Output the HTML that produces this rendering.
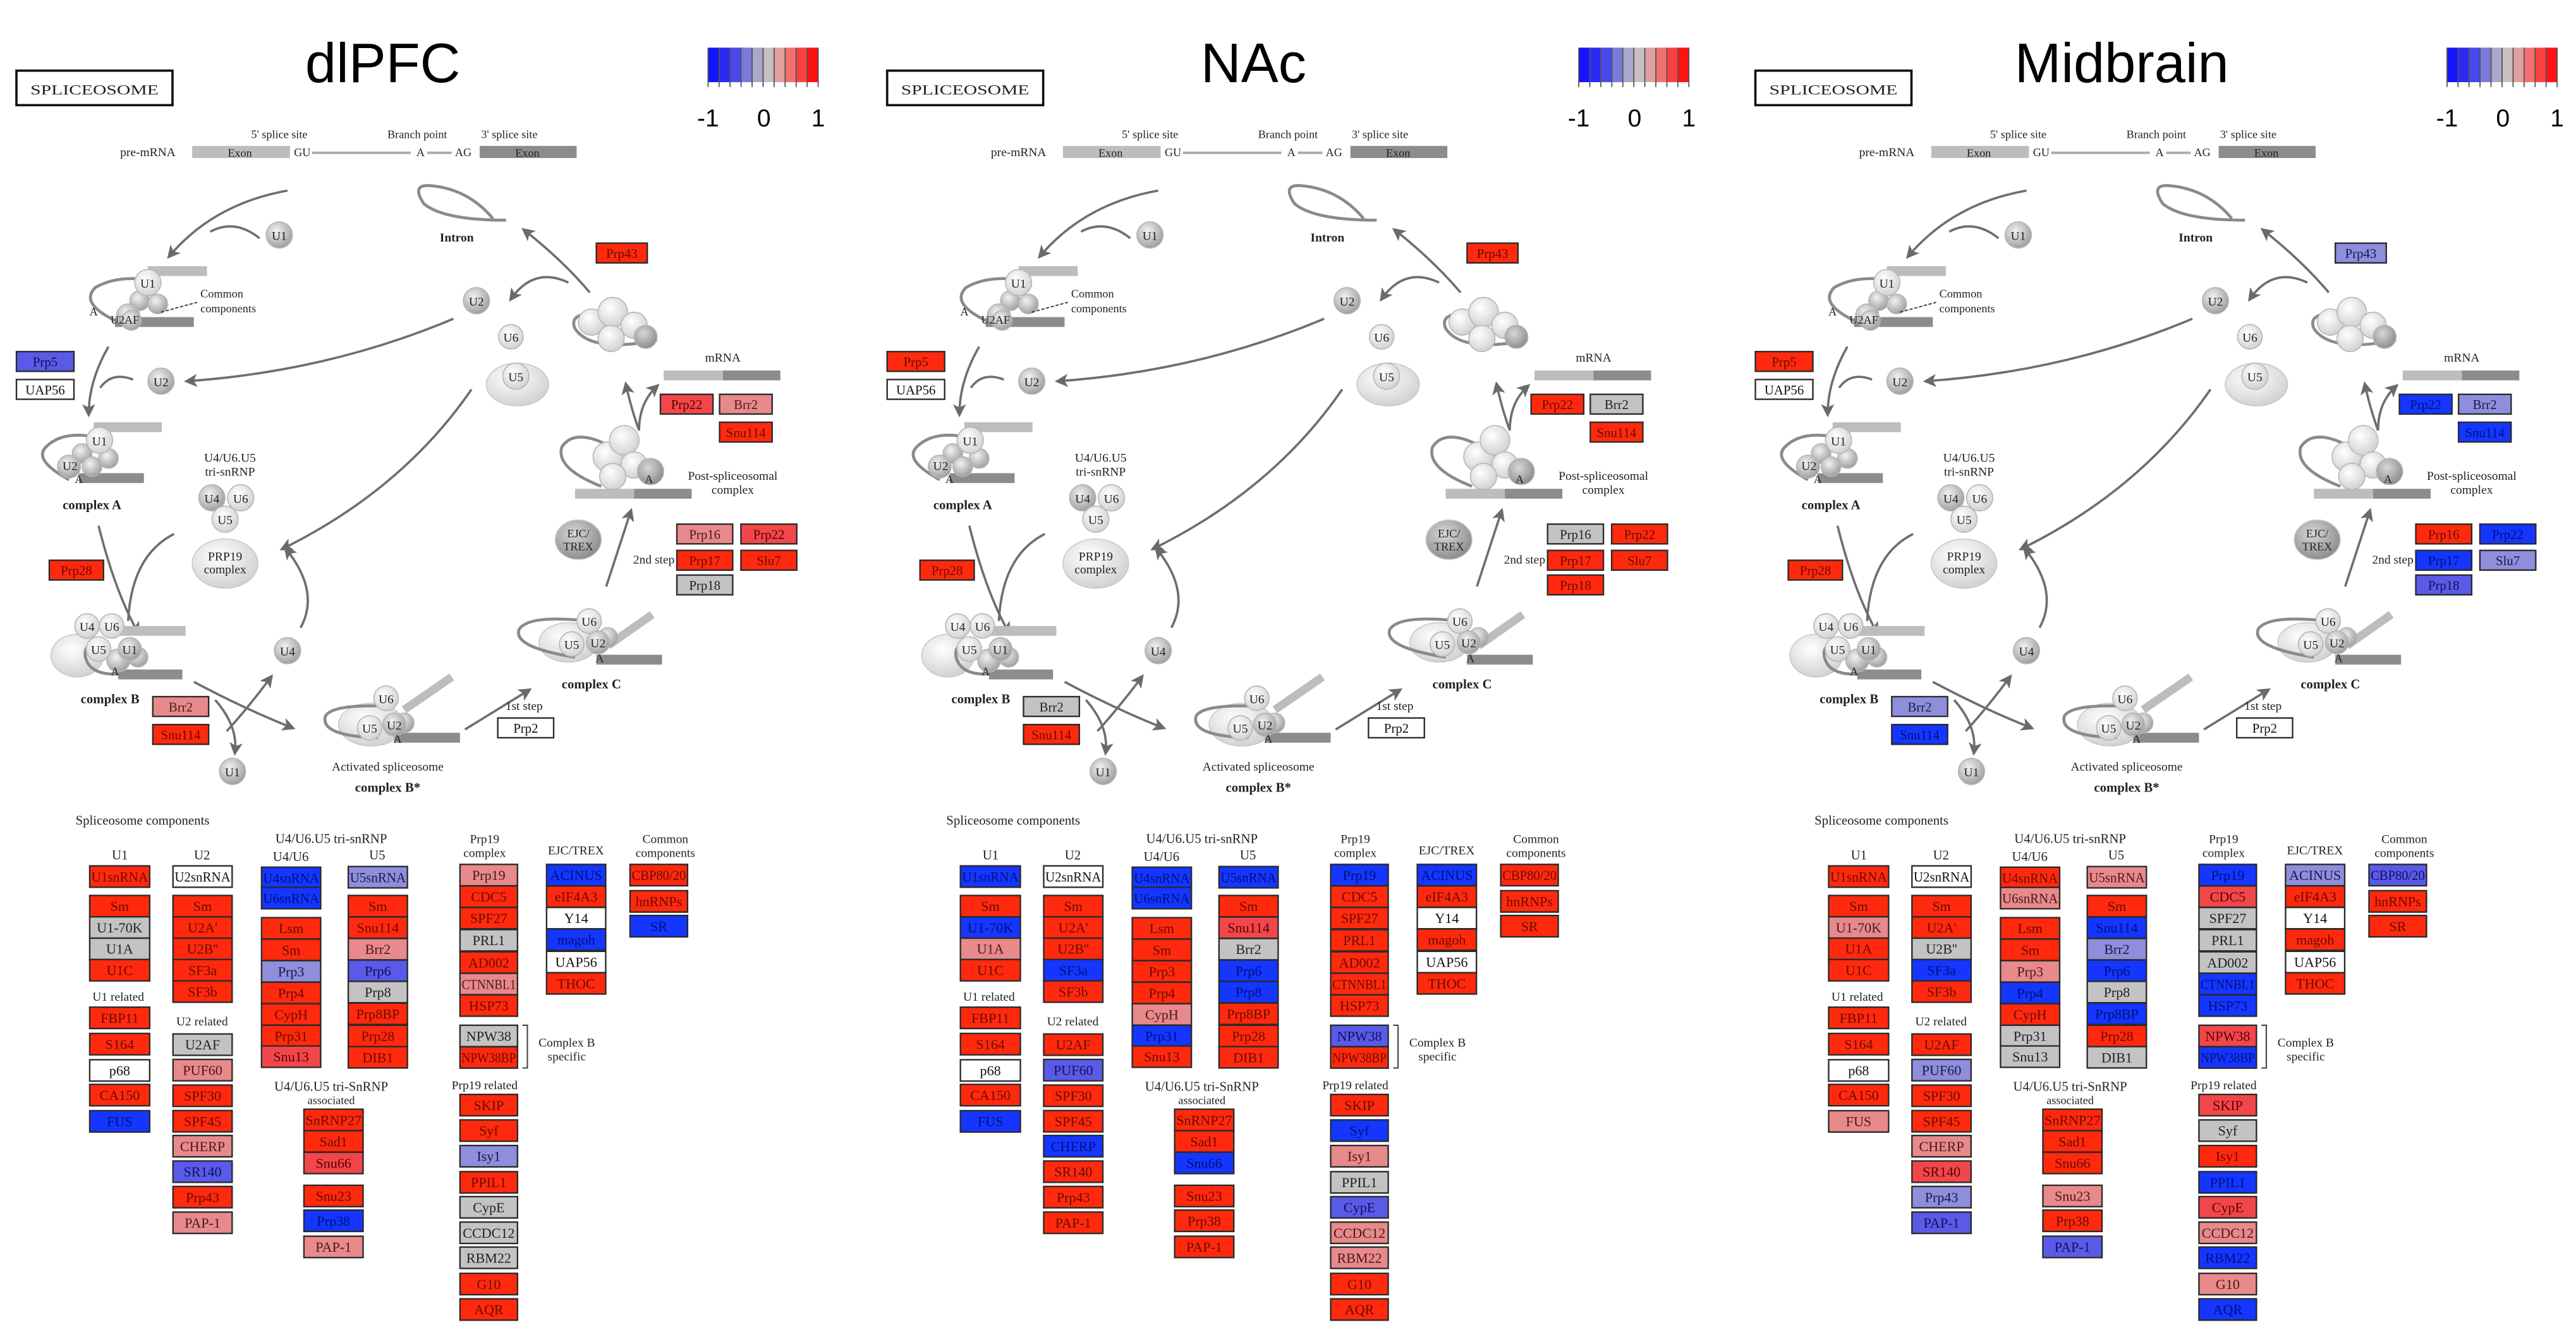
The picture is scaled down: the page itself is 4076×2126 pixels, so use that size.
<!DOCTYPE html>
<html><head><meta charset="utf-8">
<style>
html,body{margin:0;padding:0;background:#fff;}
svg{display:block;}
</style></head>
<body>
<svg id="s" xmlns="http://www.w3.org/2000/svg" width="4076" height="2126" viewBox="0 0 1568 818" preserveAspectRatio="none">
<defs>
<radialGradient id="gc" cx="40%" cy="35%" r="70%"><stop offset="0" stop-color="#f2f2f2"/><stop offset="1" stop-color="#9a9a9a"/></radialGradient>
<radialGradient id="gw" cx="40%" cy="35%" r="70%"><stop offset="0" stop-color="#ffffff"/><stop offset="1" stop-color="#cfcfcf"/></radialGradient>
<radialGradient id="gd" cx="40%" cy="35%" r="70%"><stop offset="0" stop-color="#d8d8d8"/><stop offset="1" stop-color="#888"/></radialGradient>
<marker id="ah" markerWidth="8" markerHeight="8" refX="6" refY="4" orient="auto" markerUnits="userSpaceOnUse"><path d="M0,0 L8,4 L0,8 L2,4 z" fill="#6a6a6a"/></marker>
</defs>
<g id="root"></g>
</svg>
<script>
var C={R:['#ff2a0e','#6a0a00'],L:['#f2474a','#5a0000'],P:['#e8898c','#4a1a1a'],G:['#c3c3c3','#222'],W:['#ffffff','#111'],B:['#1436ff','#00107a'],M:['#5a5ae8','#10105a'],V:['#8e8edc','#1a1a4a']};
var out=[];
function box(x,y,w,h,c,t,fs){var col=C[c];out.push('<rect x="'+x+'" y="'+y+'" width="'+w+'" height="'+h+'" fill="'+col[0]+'" stroke="#2a2a2a" stroke-width="0.9"/>');
 var tl=(t.length>6)?' textLength="'+(w-2)+'" lengthAdjust="spacingAndGlyphs"':'';
 out.push('<text x="'+(x+w/2)+'" y="'+(y+h/2+3)+'" font-family="Liberation Serif, serif" font-size="'+(fs||8.5)+'" fill="'+col[1]+'" text-anchor="middle"'+tl+'>'+t+'</text>');}
function txt(x,y,t,fs,anc,extra){out.push('<text x="'+x+'" y="'+y+'" font-family="Liberation Serif, serif" font-size="'+fs+'" fill="#222" text-anchor="'+(anc||'middle')+'" '+(extra||'')+'>'+t+'</text>');}
function circ(x,y,r,t,g){out.push('<circle cx="'+x+'" cy="'+y+'" r="'+r+'" fill="url(#'+(g||'gc')+')" stroke="#b5b5b5" stroke-width="0.6"/>');if(t)txt(x,y+3,t,7.5);}
function ell(x,y,rx,ry,g){out.push('<ellipse cx="'+x+'" cy="'+y+'" rx="'+rx+'" ry="'+ry+'" fill="url(#'+(g||'gw')+')" stroke="#c8c8c8" stroke-width="0.6"/>');}
function bar(x1,x2,y,c,h){out.push('<rect x="'+x1+'" y="'+(y-(h||3.5))+'" width="'+(x2-x1)+'" height="'+((h||3.5)*2)+'" fill="'+c+'"/>');}
function path(d,arrow,w){out.push('<path d="'+d+'" fill="none" stroke="#6e6e6e" stroke-width="'+(w||1.4)+'"'+(arrow?' marker-end="url(#ah)"':'')+'/>');}
function loop(d){out.push('<path d="'+d+'" fill="none" stroke="#8a8a8a" stroke-width="1.8"/>');}

var LB='#bdbdbd', DB='#8c8c8c';
function panel(o,title,up,comp){
 out.push('<g transform="translate('+o+',0)">');
 out.push('<rect x="10" y="43" width="95" height="21" fill="#fff" stroke="#111" stroke-width="1.4"/>');
 txt(57.5,57.5,'SPLICEOSOME',8.5,'middle','textLength="78" lengthAdjust="spacingAndGlyphs"');
 out.push('<text x="233" y="50" font-family="Liberation Sans, sans-serif" font-size="34" fill="#000" text-anchor="middle">'+title+'</text>');
 var bc=['#1414ff','#2a2af5','#4848ec','#7a7ad8','#a8a8cc','#c8c0c0','#e0a0a0','#f27070','#fa4040','#ff1212'];
 for(var i=0;i<10;i++){out.push('<rect x="'+(431+i*6.7)+'" y="29" width="6.7" height="21" fill="'+bc[i]+'"/>');out.push('<line x1="'+(431+i*6.7)+'" y1="29" x2="'+(431+i*6.7)+'" y2="53" stroke="#555" stroke-width="0.7"/>');}
 out.push('<line x1="498" y1="29" x2="498" y2="53" stroke="#555" stroke-width="0.7"/>');
 out.push('<text x="431" y="77" font-family="Liberation Sans, sans-serif" font-size="15" fill="#000" text-anchor="middle">-1</text>');
 out.push('<text x="465" y="77" font-family="Liberation Sans, sans-serif" font-size="15" fill="#000" text-anchor="middle">0</text>');
 out.push('<text x="498" y="77" font-family="Liberation Sans, sans-serif" font-size="15" fill="#000" text-anchor="middle">1</text>');
 // pre-mRNA
 txt(90,95,'pre-mRNA',7.5);
 bar(117,176.5,92.5,LB,3.7);txt(146,95.5,'Exon',7);
 txt(184,95,'GU',7);out.push('<line x1="190" y1="93" x2="250" y2="93" stroke="#aaa" stroke-width="1.5"/>');
 txt(256,95,'A',7);out.push('<line x1="260" y1="93" x2="275" y2="93" stroke="#aaa" stroke-width="1.5"/>');
 txt(282,95,'AG',7);bar(292,351,92.5,DB,3.7);txt(321,95.5,'Exon',7,'middle','fill="#eee"');
 txt(170,84,"5' splice site",7);txt(254,84,'Branch point',7);txt(310,84,"3' splice site",7);
 // intron
 loop('M308 134 Q270 134 258 124 Q250 112 262 113 Q285 115 300 133');
 txt(278,147,'Intron',7.5,'middle','font-weight="bold"');
 // arrows
 path('M175 116 Q130 124 103 156',1);
 path('M158 145 Q143 133 128 141');
 path('M66 211 Q54 232 54 252',1);
 path('M81 231 Q68 226 61 236');
 path('M276 194 Q200 226 114 232',1);
 path('M287 237 Q245 298 172 334',1);
 path('M60 320 Q70 360 84 385',1);
 path('M106 325 Q80 338 78 378');
 path('M118 415 Q150 432 178 443',1);
 path('M138 445 Q150 432 165 412',1);
 path('M131 426 Q145 442 143 458',1);
 path('M183 382 Q195 360 174 334',1);
 path('M283 444 L322 420',1);
 path('M369 357 L384 311',1);
 path('M389 262 Q384 248 381 234',1);
 path('M389 262 Q389 245 400 235',1);
 path('M359 178 Q342 158 319 140',1);
 path('M346 172 Q325 162 311 182',1);
 // snRNPs
 circ(170,143,8,'U1');circ(290,183,8,'U2');circ(311,205,7.5,'U6','gw');
 ell(315,234,19,13,'gw');circ(314,229,8,'U5','gw');
 circ(98,232,8,'U2');circ(175,396,8,'U4');circ(141.5,469.5,8,'U1');
 // tri-snRNP
 txt(140,281,'U4/U6.U5',7.5);txt(140,289.5,'tri-snRNP',7.5);
 circ(129,303,8,'U4');circ(146.5,303,8,'U6','gw');circ(137,316,8,'U5','gw');
 ell(137,343,20,15);txt(137,341,'PRP19',7.5);txt(137,349,'complex',7.5);
 ell(352,328.5,14,12,'gd');txt(352,327,'EJC/',7);txt(352,335,'TREX',7);
 // complex E
 bar(90,126,165,LB,3);bar(70,118,196,DB,3);
 loop('M72 196 Q48 185 58 175 Q70 168 88 170');
 circ(85,183,6);circ(96,185,6);circ(78,192,7);circ(90,172,8,'U1','gw');circ(80,195,6);
 txt(76,197,'U2AF',7);txt(57,192,'A',7);
 out.push('<path d="M98 190 L120 184" stroke="#333" stroke-dasharray="2,1" stroke-width="0.7"/>');
 txt(122,181,'Common',7,'start');txt(122,190,'components',7,'start');
 // complex A
 bar(57,98.5,260,LB,3);bar(48,87.6,291,DB,3);
 loop('M42 292 Q20 280 28 272 Q38 262 58 266');
 circ(50,276,6);circ(66,279,6);circ(56,284,6);circ(42,284,7);circ(60.6,268,8,'U1','gw');txt(42.6,286,'U2',7.5);txt(48,294,'A',7);
 txt(56,310,'complex A',8,'middle','font-weight="bold"');
 // complex B
 ell(47,399,16,13,'gw');bar(68,113,384,LB,3);bar(72,111,410.5,DB,3);
 loop('M75 410 Q55 412 52 400 Q50 390 65 392');
 circ(72,402,7);circ(84,400,6);circ(53,381,7.5,'U4','gw');circ(68,381,7.5,'U6','gw');circ(60,395,7.5,'U5','gw');circ(79,395,7,'U1');txt(70,411,'A',7);
 txt(67,428,'complex B',8,'middle','font-weight="bold"');
 // complex B*
 ell(226,441,20,13,'gw');out.push('<line x1="246" y1="432" x2="275" y2="412" stroke="#bdbdbd" stroke-width="5"/>');
 bar(240,280,449,DB,3);loop('M230 449 Q195 448 198 436 Q202 428 240 430');
 circ(246,440,6);circ(235,425,7.5,'U6','gw');circ(225,443,7.5,'U5','gw');circ(240,441,7,'U2');txt(242,452,'A',7);
 txt(236,469,'Activated spliceosome',7.5);txt(236,482,'complex B*',8,'middle','font-weight="bold"');
 // complex C
 ell(346,391,18,12,'gw');out.push('<line x1="370" y1="393" x2="397" y2="374" stroke="#bdbdbd" stroke-width="5"/>');
 bar(363,403,401.5,DB,3);loop('M350 400 Q312 394 316 383 Q322 374 358 378');
 circ(370,388,6);circ(358.6,378,7.5,'U6','gw');circ(348,392,7.5,'U5','gw');circ(364,391,7,'U2');txt(365,403,'A',7);
 txt(360,419,'complex C',8,'middle','font-weight="bold"');
 // post-spliceosomal
 bar(350,386,300.5,LB,3);bar(386,421,300.5,DB,3);
 loop('M366 296 Q338 285 342 272 Q350 260 372 272');
 circ(370,278,9,'','gw');circ(380,268,9,'','gw');circ(386,283,8,'','gw');circ(373,290,8,'','gw');circ(396,287,8,'','gd');txt(395,294,'A',7);
 txt(446,292,'Post-spliceosomal',7.5);txt(446,300.5,'complex',7.5);
 // top right cluster
 loop('M400 207 Q360 215 350 200 Q345 188 372 192');
 circ(360,196,8,'','gw');circ(373,190,9,'','gw');circ(386,198,8,'','gw');circ(372,206,8,'','gw');circ(393,205,7,'','gd');
 // mRNA
 txt(440,220,'mRNA',7.5);bar(404,440,228.5,LB,3);bar(440,475,228.5,DB,3);
 txt(398,343,'2nd step',7.5);txt(319,432,'1st step',7.5);
 // upper boxes
 var U=[['Prp43',363,148,31],['Prp5',10,214,35],['UAP56',10,231,35],['Prp22',402,240,32],['Brr2',438,240,32],['Snu114',438,257,32],['Prp28',30,341,33],['Prp16',412,319,34],['Prp22',451,319,34],['Prp17',412,335,34],['Slu7',451,335,34],['Prp18',412,350,34],['Brr2',93,424,34],['Snu114',93,441,34],['Prp2',303,437,34]];
 for(var i=0;i<U.length;i++){box(U[i][1],U[i][2],U[i][3],12,up[i],U[i][0],8);}
 // components labels
 txt(46,502,'Spliceosome components',8,'start');
 txt(73,523,'U1',8);txt(123,523,'U2',8);txt(201.6,513,'U4/U6.U5 tri-snRNP',8);txt(177,524,'U4/U6',8);txt(229.6,523,'U5',8);
 txt(72,609,'U1 related',7.5);txt(123,624,'U2 related',7.5);txt(201.6,664,'U4/U6.U5 tri-SnRNP',8);txt(201.6,672,'associated',7);
 txt(295,513,'Prp19',7.5);txt(295,521.5,'complex',7.5);txt(350.6,520,'EJC/TREX',7.5);txt(405,513,'Common',7.5);txt(405,521.5,'components',7.5);
 txt(345,637,'Complex B',7.5);txt(345,645.5,'specific',7.5);txt(295,663,'Prp19 related',7.5);
 out.push('<path d="M318 624 L321 624 L321 650 L318 650" fill="none" stroke="#444" stroke-width="0.8"/>');
 var cols=[
  [54.6,36.5,['U1snRNA','Sm','U1-70K','U1A','U1C','FBP11','S164','p68','CA150','FUS'],[527,545,558,571,584,613,629,645,660,676]],
  [105.3,36,['U2snRNA','Sm',"U2A'","U2B''",'SF3a','SF3b','U2AF','PUF60','SPF30','SPF45','CHERP','SR140','Prp43','PAP-1'],[527,545,558,571,584,597,629.3,644.8,660.4,675.9,691.1,706.6,722.1,737.7]],
  [159.2,36,['U4snRNA','U6snRNA','Lsm','Sm','Prp3','Prp4','CypH','Prp31','Snu13'],[527.8,540.1,558.5,571.6,584.7,597.8,610.9,624,636.6]],
  [212,36,['U5snRNA','Sm','Snu114','Brr2','Prp6','Prp8','Prp8BP','Prp28','DIB1'],[527.4,545,558.1,571.2,584.3,597.3,610.5,624,637]],
  [185,36,['SnRNP27','Sad1','Snu66','Snu23','Prp38','PAP-1'],[675.1,688.2,701.3,721.4,736.5,752.4]],
  [280,35,['Prp19','CDC5','SPF27','PRL1','AD002','CTNNBL1','HSP73','NPW38','NPW38BP'],[526.1,539.2,552.3,565.8,579.3,592.4,605.5,624,637.1]],
  [280,35,['SKIP','Syf','Isy1','PPIL1','CypE','CCDC12','RBM22','G10','AQR'],[666.1,681.6,697.2,713.1,728.3,743.8,759,775,790.5]],
  [332.7,36,['ACINUS','eIF4A3','Y14','magoh','UAP56','THOC'],[526.1,539.2,552.3,565.4,579,592]],
  [383.5,35,['CBP80/20','hnRNPs','SR'],[526.1,542.1,557.2]]];
 for(var c=0;c<cols.length;c++){var col=cols[c];for(var k=0;k<col[2].length;k++){box(col[0],col[3][k],col[1],13,comp[c][k],col[2][k]);}}
 out.push('</g>');
}
panel(0,'dlPFC',['R','M','W','L','P','R','R','P','L','R','R','G','P','R','W'],
 ['RRGGRRRWRB','WRRRRRGPRRPMRP','BBRRVRRRL','VRRPMGRRR','RRLRBP','PRRGRPRGR','RRVRGGGRR','BRWBWR','RRB']);
panel(530,'NAc',['R','R','W','R','G','R','R','G','R','R','R','R','G','R','W'],
 ['BRBPRRRWRB','WRRRBRRMRRBRRR','BBRRRRPBR','BRLGBBRRR','RRBRRR','BRRRRRRMR','RBPGMPPRR','BRWRWR','RRR']);
panel(1058.5,'Midbrain',['V','R','W','B','V','B','R','R','B','B','V','M','V','B','W'],
 ['RRPRRRRWRP','WRRGBRRVRRPLVM','RPRRPBRGG','PRBVBGBRG','RRRPRM','BLGGGBBLB','LGRBLPBPB','VRWRWR','MRR']);
document.getElementById('root').innerHTML=out.join('');
</script>
</body></html>
